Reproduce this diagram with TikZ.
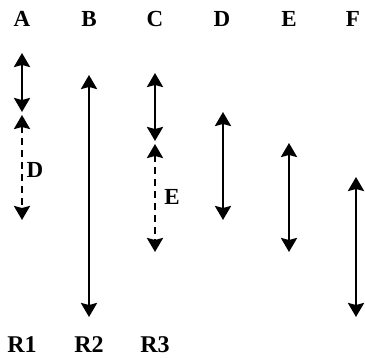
\documentclass[tikz,border=0pt]{standalone}
\usepackage{fontspec}
\setmainfont{Liberation Serif}
\usetikzlibrary{arrows.meta}
\begin{document}
\begin{tikzpicture}[x=1pt,y=-1pt,
  hdr/.style={font=\fontsize{23}{23}\selectfont\bfseries, inner sep=0pt},
  rlab/.style={font=\fontsize{24}{24}\selectfont\bfseries, inner sep=0pt},
  seg/.style={line width=2.6pt, {Stealth[width=16pt,length=14pt,inset=2pt]}-{Stealth[width=16pt,length=14pt,inset=2pt]}},
  dseg/.style={seg, dash pattern=on 7pt off 5pt}]
\useasboundingbox (0,0) rectangle (365,358);
% headers
\node[hdr] (hA) at (22,19) {A};
\node[hdr] (hB) at (89,19) {B};
\node[hdr] (hC) at (155,19) {C};
\node[hdr] (hD) at (222,19) {D};
\node[hdr] (hE) at (289,19) {E};
\node[hdr] (hF) at (353,19) {F};
% bottom labels
\node[rlab] (r1) at (22,345) {R1};
\node[rlab] (r2) at (89,345) {R2};
\node[rlab] (r3) at (155,345) {R3};
% coordinates
\coordinate (a1) at (22,53);
\coordinate (a2) at (22,112);
\coordinate (a3) at (22,115);
\coordinate (a4) at (22,220);
\coordinate (b1) at (89,75);
\coordinate (b2) at (89,317);
\coordinate (c1) at (155,73);
\coordinate (c2) at (155,141);
\coordinate (c3) at (155,144);
\coordinate (c4) at (155,252);
\coordinate (d1) at (223,112);
\coordinate (d2) at (223,220);
\coordinate (e1) at (289,143);
\coordinate (e2) at (289,252);
\coordinate (f1) at (356,177);
\coordinate (f2) at (356,317);
% arrows
\draw[seg] (a1) -- (a2);
\draw[dseg] (a3) -- (a4);
\draw[seg] (b1) -- (b2);
\draw[seg] (c1) -- (c2);
\draw[dseg] (c3) -- (c4);
\draw[seg] (d1) -- (d2);
\draw[seg] (e1) -- (e2);
\draw[seg] (f1) -- (f2);
% dashed labels
\node[hdr] (lD) at (35,170) {D};
\node[hdr] (lE) at (172,197) {E};
\end{tikzpicture}
\end{document}
